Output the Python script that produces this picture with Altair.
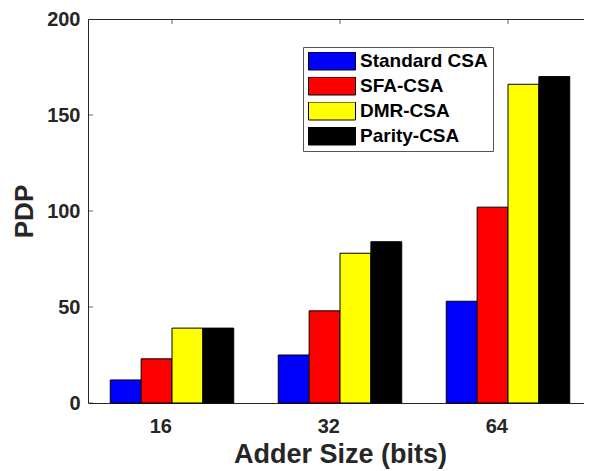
import altair as alt
import pandas as pd

sizes = ["16", "32", "64"]
series = ["Standard CSA", "SFA-CSA", "DMR-CSA", "Parity-CSA"]
colors = ["#0000FF", "#FF0000", "#FFFF00", "#000000"]
standard_csa = [12, 25, 53]
sfa_csa = [23, 48, 102]
dmr_csa = [39, 78, 166]
parity_csa = [39, 84, 170]
y_ticks = [0, 50, 100, 150, 200]

rows = []
for s, vals in zip(series, [standard_csa, sfa_csa, dmr_csa, parity_csa]):
    for size, v in zip(sizes, vals):
        rows.append({"Size": size, "Series": s, "PDP": v})
df = pd.DataFrame(rows)
tick_df = pd.DataFrame({"t": y_ticks})
cat_df = pd.DataFrame({"Size": sizes})

FONT = "Liberation Sans"
W, H = 504, 384

x_scale = alt.Scale(domain=sizes, paddingInner=0.265, paddingOuter=0.1325)
y_scale = alt.Scale(domain=[0, 200], nice=False)

bars = alt.Chart(df).mark_bar(stroke="black", strokeWidth=1, opacity=1).encode(
    x=alt.X("Size:N", sort=sizes, scale=x_scale,
            axis=alt.Axis(title="Adder Size (bits)", labelAngle=0, ticks=False, tickSize=0,
                          domain=False, labelPadding=23, titlePadding=5)),
    xOffset=alt.XOffset("Series:N", sort=series, scale=alt.Scale(domain=series, paddingInner=0, paddingOuter=0)),
    y=alt.Y("PDP:Q", scale=y_scale,
            axis=alt.Axis(title="PDP", values=y_ticks, ticks=False, tickSize=0, domain=False,
                          grid=False, labelPadding=8, titlePadding=9)),
    color=alt.Color("Series:N", sort=series, scale=alt.Scale(domain=series, range=colors),
                    legend=alt.Legend(title=None, orient="none", legendX=215, legendY=28)),
)

left_ticks = alt.Chart(tick_df).mark_tick(orient="horizontal", size=10, thickness=1, clip=True,
                                          color="#262626").encode(
    y=alt.Y("t:Q", scale=y_scale), x=alt.value(0))
right_ticks = alt.Chart(tick_df).mark_tick(orient="horizontal", size=10, thickness=1, clip=True,
                                           color="#262626").encode(
    y=alt.Y("t:Q", scale=y_scale), x=alt.value(W))
top_ticks = alt.Chart(cat_df).mark_tick(orient="vertical", size=10, thickness=1, clip=True,
                                        color="#262626").encode(
    x=alt.X("Size:N", sort=sizes, scale=x_scale), y=alt.value(0))

chart = alt.layer(left_ticks, right_ticks, top_ticks, bars).properties(
    width=W, height=H,
    autosize=alt.AutoSizeParams(type="none"),
    padding={"left": 80, "top": 11, "right": -8, "bottom": 68},
).configure_view(
    stroke="#262626", strokeWidth=1
).configure_axis(
    labelFont=FONT, labelFontSize=20, labelFontWeight="bold", labelColor="#262626",
    titleFont=FONT, titleFontSize=27, titleFontWeight="bold", titleColor="#262626",
).configure_axisY(titleFontSize=26).configure_legend(
    labelFont=FONT, labelFontSize=19, labelFontWeight="bold", labelColor="#000000",
    symbolType="M-1,-0.383H1V0.383H-1Z", symbolSize=2209, symbolStrokeColor="black",
    symbolStrokeWidth=1, symbolOpacity=1, labelOffset=4, rowPadding=6, clipHeight=18,
    padding=5, strokeColor="#555555", fillColor="white", cornerRadius=0,
)

chart.save("out.html", embed_options={"renderer": "svg", "actions": False})
